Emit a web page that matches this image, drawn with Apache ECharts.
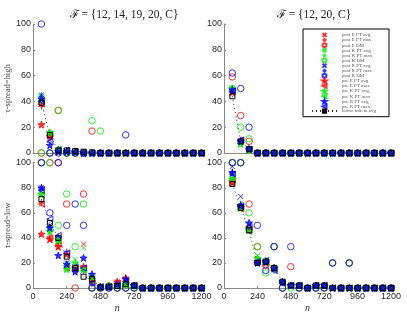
<!DOCTYPE html>
<html><head><meta charset="utf-8">
<script src="https://cdn.jsdelivr.net/npm/echarts@6/dist/echarts.min.js"></script>
<style>html,body{margin:0;padding:0;background:#fff}#c{width:407px;height:314px}</style>
</head><body><div id="c"></div>
<script>
const nValues = [60,120,180,240,300,360,420,480,540,600,660,720,780,840,900,960,1020,1080,1140,1200];
const xTicks = [0,240,480,720,960,1200];
const yTicks = [0,20,40,60,80,100];
const panelTitles = ['ℱ = {12, 14, 19, 20, C}', 'ℱ = {12, 20, C}'];
const rowLabels = ['τ-spread=high', 'τ-spread=low'];
const seriesNames = ['post E PT avg','post E PT max','post E DM','post K PT avg','post K PT max','post K DM',
  'post R PT avg','post R PT max','post R DM','pre E PT avg','pre E PT max','pre K PT avg','pre K PT max',
  'pre R PT avg','pre R PT max','homo min in avg'];

// top-left: F={12,14,19,20,C}, tau-spread=high
const TL_postE_PTavg = [38,13,2,1,0.5,0,0,0,0,0,0,0,0,0,0,0,0,0,0,0];
const TL_postE_PTmax = [36,14,3,2,1,0.5,0,0,0,0,0,0,0,0,0,0,0,0,0,0];
const TL_postE_DM    = [0,0,33,0,0,0,17,0,0,0,0,0,0,0,0,0,0,0,0,0];
const TL_postK_PTavg = [44,15,2,1,0.5,0,0,0,0,0,0,0,0,0,0,0,0,0,0,0];
const TL_postK_PTmax = [45,16,3,2,1,0.5,0,0,0,0,0,0,0,0,0,0,0,0,0,0];
const TL_postK_DM    = [0,0,33,0,0,0,25,17,0,0,0,0,0,0,0,0,0,0,0,0];
const TL_postR_PTavg = [45,10,2,1,0.5,0,0,0,0,0,0,0,0,0,0,0,0,0,0,0];
const TL_postR_PTmax = [44,12,3,2,1,0.5,0,0,0,0,0,0,0,0,0,0,0,0,0,0];
const TL_postR_DM    = [100,0,0,0,0,0,0,0,0,0,14,0,0,0,0,0,0,0,0,0];
const TL_preE_PTavg  = [22,13,1,1,0.5,0,0,0,0,0,0,0,0,0,0,0,0,0,0,0];
const TL_preE_PTmax  = [38,13,2,2,1,0.5,0,0,0,0,0,0,0,0,0,0,0,0,0,0];
const TL_preK_PTavg  = [42,16,2,1,0.5,0,0,0,0,0,0,0,0,0,0,0,0,0,0,0];
const TL_preK_PTmax  = [41,15,3,2,1,0,0,0,0,0,0,0,0,0,0,0,0,0,0,0];
const TL_preR_PTavg  = [42,6,1,1,0.5,0,0,0,0,0,0,0,0,0,0,0,0,0,0,0];
const TL_preR_PTmax  = [40,9,2,2,1,0,0,0,0,0,0,0,0,0,0,0,0,0,0,0];
const TL_homo        = [39,14,2,2,1.5,1,0.5,0,0,0,0,0,0,0,0,0,0,0,0,0];

// top-right: F={12,20,C}, tau-spread=high
const TR_postE_PTavg = [47,9,3,0,0,0,0,0,0,0,0,0,0,0,0,0,0,0,0,0];
const TR_postE_PTmax = [48,10,3,0,0,0,0,0,0,0,0,0,0,0,0,0,0,0,0,0];
const TR_postE_DM    = [59,29,9,0,0,0,0,0,0,0,0,0,0,0,0,0,0,0,0,0];
const TR_postK_PTavg = [50,8,2,0,0,0,0,0,0,0,0,0,0,0,0,0,0,0,0,0];
const TR_postK_PTmax = [49,9,3,0,0,0,0,0,0,0,0,0,0,0,0,0,0,0,0,0];
const TR_postK_DM    = [50,20,11,0,0,0,0,0,0,0,0,0,0,0,0,0,0,0,0,0];
const TR_postR_PTavg = [49,9,3,0,0,0,0,0,0,0,0,0,0,0,0,0,0,0,0,0];
const TR_postR_PTmax = [50,10,4,0,0,0,0,0,0,0,0,0,0,0,0,0,0,0,0,0];
const TR_postR_DM    = [62,50,20,0,0,0,0,0,0,0,0,0,0,0,0,0,0,0,0,0];
const TR_preE_PTavg  = [47,9,2,0,0,0,0,0,0,0,0,0,0,0,0,0,0,0,0,0];
const TR_preE_PTmax  = [48,10,3,0,0,0,0,0,0,0,0,0,0,0,0,0,0,0,0,0];
const TR_preK_PTavg  = [50,7,2,0,0,0,0,0,0,0,0,0,0,0,0,0,0,0,0,0];
const TR_preK_PTmax  = [48,9,3,0,0,0,0,0,0,0,0,0,0,0,0,0,0,0,0,0];
const TR_preR_PTavg  = [49,9,3,0,0,0,0,0,0,0,0,0,0,0,0,0,0,0,0,0];
const TR_preR_PTmax  = [48,10,3,0,0,0,0,0,0,0,0,0,0,0,0,0,0,0,0,0];
const TR_homo        = [44,9,3,0,0,0,0,0,0,0,0,0,0,0,0,0,0,0,0,0];

// bottom-left: F={12,14,19,20,C}, tau-spread=low
const BL_postE_PTavg = [67,38,32,16,15,35,8,1,2,5,4,2,0,0,0,0,0,0,0,0];
const BL_postE_PTmax = [68,41,34,17,16,17,6,0.5,2,4,3,1,0,0,0,0,0,0,0,0];
const BL_postE_DM    = [100,100,100,67,0,75,0,0,0,0,0,0,0,0,0,0,0,0,0,0];
const BL_postK_PTavg = [77,47,36,15,23,32,10,1,2,2,2,2,0,0,0,0,0,0,0,0];
const BL_postK_PTmax = [76,46,37,16,17,16,9,1,1,2,2,1,0,0,0,0,0,0,0,0];
const BL_postK_DM    = [100,100,50,75,33,67,0,0,0,0,0,0,0,0,0,0,0,0,0,0];
const BL_postR_PTavg = [80,50,39,20,14,15,5,1,1,3,7,2,0,0,0,0,0,0,0,0];
const BL_postR_PTmax = [79,49,41,29,15,14,3,0.5,1,2,8,2,0,0,0,0,0,0,0,0];
const BL_postR_DM    = [100,60,100,50,67,50,0,0,0,0,0,0,0,0,0,0,0,0,0,0];
const BL_preE_PTavg  = [43,39,33,27,16,17,7,1,2,5,8,2,0,0,0,0,0,0,0,0];
const BL_preE_PTmax  = [67,40,35,16,15,16,5,0.5,1,4,5,2,0,0,0,0,0,0,0,0];
const BL_preK_PTavg  = [75,45,38,15,20,15,9,1,2,2,3,2,0,0,0,0,0,0,0,0];
const BL_preK_PTmax  = [74,47,39,18,16,14,6,1,1,2,3,1,0,0,0,0,0,0,0,0];
const BL_preR_PTavg  = [80,48,26,19,13,24,11,1,1,3,7,2,0,0,0,0,0,0,0,0];
const BL_preR_PTmax  = [78,55,42,28,17,16,4,1,1,2,5,2,0,0,0,0,0,0,0,0];
const BL_homo        = [71,52,40,25,16,9,7,0.5,1,1.5,3,2,0,0,0,0,0,0,0,0];

// bottom-right: F={12,20,C}, tau-spread=low
const BR_postE_PTavg = [85,64,47,22,21,16,4,2,2,0,2,2,0,0,0,0,0,0,0,0];
const BR_postE_PTmax = [86,66,48,21,22,15,5,2,2,0,2,2,0,0,0,0,0,0,0,0];
const BR_postE_DM    = [100,100,67,33,18,33,0,17,0,0,0,0,20,0,20,0,0,0,0,0];
const BR_postK_PTavg = [89,63,45,26,22,14,4,2,2,0,2,2,0,0,0,0,0,0,0,0];
const BR_postK_PTmax = [88,65,46,22,21,16,5,2,2,0,2,2,0,0,0,0,0,0,0,0];
const BR_postK_DM    = [100,100,60,33,12,33,0,0,0,0,0,0,20,0,20,0,0,0,0,0];
const BR_postR_PTavg = [97,73,50,21,21,15,5,2,2,0,2,2,0,0,0,0,0,0,0,0];
const BR_postR_PTmax = [93,67,49,20,22,14,4,2,2,0,2,2,0,0,0,0,0,0,0,0];
const BR_postR_DM    = [100,100,47,50,14,33,0,33,0,0,0,0,20,0,20,0,0,0,0,0];
const BR_preE_PTavg  = [84,65,48,21,20,16,5,2,2,0,2,2,0,0,0,0,0,0,0,0];
const BR_preE_PTmax  = [86,63,46,22,21,15,4,2,2,0,2,2,0,0,0,0,0,0,0,0];
const BR_preK_PTavg  = [87,64,47,24,22,16,5,2,2,0,2,2,0,0,0,0,0,0,0,0];
const BR_preK_PTmax  = [89,66,45,21,20,15,4,2,2,0,2,2,0,0,0,0,0,0,0,0];
const BR_preR_PTavg  = [92,66,52,20,21,16,5,2,2,0,2,2,0,0,0,0,0,0,0,0];
const BR_preR_PTmax  = [91,65,49,21,22,14,4,2,2,0,2,2,0,0,0,0,0,0,0,0];
const BR_homo        = [83,64,46,20,21,16,5,2,2,0,2,2,0,0,0,0,0,0,0,0];

const panelData = [
  [TL_postE_PTavg,TL_postE_PTmax,TL_postE_DM,TL_postK_PTavg,TL_postK_PTmax,TL_postK_DM,TL_postR_PTavg,TL_postR_PTmax,TL_postR_DM,TL_preE_PTavg,TL_preE_PTmax,TL_preK_PTavg,TL_preK_PTmax,TL_preR_PTavg,TL_preR_PTmax,TL_homo],
  [TR_postE_PTavg,TR_postE_PTmax,TR_postE_DM,TR_postK_PTavg,TR_postK_PTmax,TR_postK_DM,TR_postR_PTavg,TR_postR_PTmax,TR_postR_DM,TR_preE_PTavg,TR_preE_PTmax,TR_preK_PTavg,TR_preK_PTmax,TR_preR_PTavg,TR_preR_PTmax,TR_homo],
  [BL_postE_PTavg,BL_postE_PTmax,BL_postE_DM,BL_postK_PTavg,BL_postK_PTmax,BL_postK_DM,BL_postR_PTavg,BL_postR_PTmax,BL_postR_DM,BL_preE_PTavg,BL_preE_PTmax,BL_preK_PTavg,BL_preK_PTmax,BL_preR_PTavg,BL_preR_PTmax,BL_homo],
  [BR_postE_PTavg,BR_postE_PTmax,BR_postE_DM,BR_postK_PTavg,BR_postK_PTmax,BR_postK_DM,BR_postR_PTavg,BR_postR_PTmax,BR_postR_DM,BR_preE_PTavg,BR_preE_PTmax,BR_preK_PTavg,BR_preK_PTmax,BR_preR_PTavg,BR_preR_PTmax,BR_homo]
];

const SYM = {
  x: 'path://M0,0L10,10M10,0L0,10',
  plus: 'path://M5,0L5,10M0,5L10,5',
  circle: 'circle',
  star: 'path://M5,0L6.18,3.38L9.76,3.45L6.9,5.62L7.94,9.05L5,7L2.06,9.05L3.1,5.62L0.24,3.45L3.82,3.38Z',
  tri: 'path://M10,0L0,5L10,10Z',
  rect: 'rect'
};
const R = '#ff0000', G = '#00ee00', B = '#0000ff';
const styleDefs = [
  [SYM.x,R,5],[SYM.plus,R,6],[SYM.circle,R,6.5],
  [SYM.x,G,5],[SYM.plus,G,6],[SYM.circle,G,6.5],
  [SYM.x,B,5],[SYM.plus,B,6],[SYM.circle,B,6.5],
  [SYM.star,R,7],[SYM.tri,R,6],[SYM.star,G,7],[SYM.tri,G,6],[SYM.star,B,7],[SYM.tri,B,6],
  [SYM.rect,'#000',5]
];

const grids = [
  {left:33, top:24, width:168.5, height:129},
  {left:224, top:24, width:167, height:129},
  {left:33, top:162.7, width:168.5, height:127.6},
  {left:224, top:162.7, width:167, height:127.6}
];
const axisColor = '#8a8a8a';
const xAxes = grids.map((g,i)=>({
  gridIndex:i, type:'value', min:xTicks[0], max:xTicks[xTicks.length-1], interval:xTicks[1]-xTicks[0],
  axisLine:{show:true, onZero:false, lineStyle:{color:axisColor, width:1}},
  axisTick:{show:true, inside:true, length:2, lineStyle:{color:axisColor}},
  axisLabel:{show:i>=2, fontSize:9, color:'#262626', margin:4, fontFamily:'Liberation Sans', formatter:v=>String(v)},
  splitLine:{show:false},
  name: i>=2 ? 'n' : '', nameLocation:'middle', nameGap:15,
  nameTextStyle:{fontStyle:'italic', fontFamily:'Liberation Serif', fontSize:10, color:'#333'}
}));
const yAxes = grids.map((g,i)=>({
  gridIndex:i, type:'value', min:yTicks[0], max:yTicks[yTicks.length-1], interval:yTicks[1]-yTicks[0],
  axisLine:{show:true, onZero:false, lineStyle:{color:axisColor, width:1}},
  axisTick:{show:true, inside:true, length:2, lineStyle:{color:axisColor}},
  axisLabel:{show:true, fontSize:9, color:'#262626', margin:2, fontFamily:'Liberation Sans'},
  splitLine:{show:false},
  name: i%2===0 ? rowLabels[i>>1] : '', nameLocation:'middle', nameGap:20,
  nameTextStyle:{fontFamily:'Liberation Serif, DejaVu Serif', fontSize:8.5, color:'#444'}
}));

const series = [];
panelData.forEach((arrs,p)=>{
  arrs.forEach((arr,k)=>{
    const [sym,col,size] = styleDefs[k];
    const data = nValues.map((n,i)=>[n, arr[i]]);
    const isHomo = k===15;
    const hollow = (sym===SYM.circle || sym===SYM.tri || sym===SYM.rect);
    series.push({
      type: isHomo ? 'line' : 'scatter',
      name: seriesNames[k],
      xAxisIndex:p, yAxisIndex:p,
      data,
      symbol:sym, symbolSize:size,
      showSymbol:true,
      clip:false,
      silent:true,
      animation:false,
      itemStyle:{color: hollow ? 'rgba(0,0,0,0)' : col, borderColor:col, borderWidth:1},
      lineStyle: isHomo ? {color:'#333', width:1, type:[1,3]} : undefined,
      z: 2 + k*0.01
    });
  });
});

const chart = echarts.init(document.getElementById('c'), null, {renderer:'canvas'});
chart.setOption({
  animation:false,
  backgroundColor:'#fff',
  title:[
    {text:panelTitles[0], left:119, top:4, textAlign:'center',
     textStyle:{fontSize:11.5, fontWeight:'normal', fontFamily:'Liberation Serif, DejaVu Serif', color:'#222'}},
    {text:panelTitles[1], left:309, top:4, textAlign:'center',
     textStyle:{fontSize:11.5, fontWeight:'normal', fontFamily:'Liberation Serif, DejaVu Serif', color:'#222'}}
  ],
  grid:grids,
  xAxis:xAxes,
  yAxis:yAxes,
  legend:{
    data:seriesNames, orient:'vertical', left:303, top:29,
    itemWidth:25, itemHeight:4, itemGap:-0.9,
    padding:[3,13,3,8], borderColor:'#000', borderWidth:1, backgroundColor:'#fff',
    selectedMode:false, z:10,
    textStyle:{fontSize:5, lineHeight:5, fontFamily:'Liberation Serif, DejaVu Serif', color:'#555'}
  },
  series
});
</script>
</body></html>
